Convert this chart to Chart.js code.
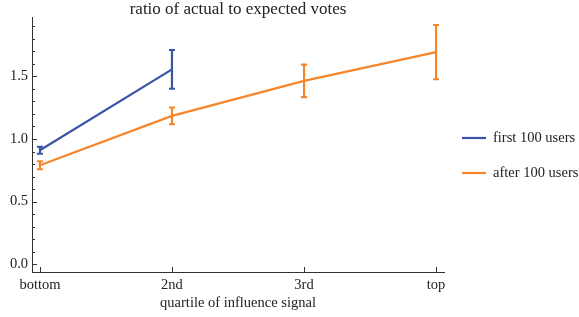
<!DOCTYPE html>
<html>
<head>
<meta charset="utf-8">
<script src="https://cdn.jsdelivr.net/npm/chart.js@4/dist/chart.umd.min.js"></script>
<style>
  html, body { margin: 0; padding: 0; background: #fff; }
  #wrap { width: 579px; height: 317px; }
</style>
</head>
<body>
<div id="wrap"><canvas id="chart" width="579" height="317"></canvas></div>
<script>
const categories = ['bottom', '2nd', '3rd', 'top'];
const firstUsers = [0.91, 1.557];
const firstErr = [0.028, 0.155];
const afterUsers = [0.79, 1.185, 1.465, 1.695];
const afterErr = [0.032, 0.067, 0.13, 0.217];
const seriesNames = ['first 100 users', 'after 100 users'];
const colors = ['#3a55a6', '#f7862a'];

const serif = '"Liberation Serif", "Times New Roman", serif';

function toPoints(vals) {
  return vals.map((v, i) => ({ x: i, y: v }));
}

// error bars, inward ticks, titles and legend
const decor = {
  id: 'decor',
  afterDatasetsDraw(chart) {
    const ctx = chart.ctx;
    const xs = chart.scales.x, ys = chart.scales.y;
    const area = chart.chartArea;
    const errs = [firstErr, afterErr];

    ctx.save();
    chart.data.datasets.forEach((ds, d) => {
      ctx.strokeStyle = colors[d];
      ctx.lineWidth = 2.2;
      ds.data.forEach((p, i) => {
        const px = xs.getPixelForValue(p.x);
        const top = ys.getPixelForValue(p.y + errs[d][i]);
        const bot = ys.getPixelForValue(p.y - errs[d][i]);
        ctx.beginPath();
        ctx.moveTo(px, top); ctx.lineTo(px, bot);
        ctx.moveTo(px - 3, top); ctx.lineTo(px + 3, top);
        ctx.moveTo(px - 3, bot); ctx.lineTo(px + 3, bot);
        ctx.stroke();
      });
    });

    // ticks pointing inward
    ctx.strokeStyle = '#333';
    ctx.lineWidth = 1;
    ctx.beginPath();
    ys.ticks.forEach(t => {
      const py = Math.round(ys.getPixelForValue(t.value)) + 0.5;
      const major = Math.abs(t.value * 2 - Math.round(t.value * 2)) < 1e-6;
      ctx.moveTo(area.left, py);
      ctx.lineTo(area.left + (major ? 5 : 3), py);
    });
    xs.ticks.forEach(t => {
      const px = Math.round(xs.getPixelForValue(t.value)) + 0.5;
      ctx.moveTo(px, area.bottom);
      ctx.lineTo(px, area.bottom - 5);
    });
    ctx.stroke();

    // titles
    ctx.fillStyle = '#222';
    ctx.textAlign = 'center';
    ctx.textBaseline = 'alphabetic';
    ctx.font = '17px ' + serif;
    ctx.fillText('ratio of actual to expected votes', (area.left + area.right) / 2, 14);
    ctx.font = '14.5px ' + serif;
    ctx.fillText('quartile of influence signal', (area.left + area.right) / 2, 307);

    // legend
    ctx.textAlign = 'left';
    ctx.textBaseline = 'middle';
    seriesNames.forEach((name, i) => {
      const ly = 138 + i * 35;
      ctx.strokeStyle = colors[i];
      ctx.lineWidth = 2.2;
      ctx.beginPath();
      ctx.moveTo(462, ly); ctx.lineTo(486, ly);
      ctx.stroke();
      ctx.fillStyle = '#222';
      ctx.fillText(name, 493, ly);
    });
    ctx.restore();
  }
};

new Chart(document.getElementById('chart'), {
  type: 'line',
  data: {
    datasets: [
      { label: seriesNames[0], data: toPoints(firstUsers), borderColor: colors[0], borderWidth: 2.2, pointRadius: 0, fill: false },
      { label: seriesNames[1], data: toPoints(afterUsers), borderColor: colors[1], borderWidth: 2.2, pointRadius: 0, fill: false }
    ]
  },
  options: {
    responsive: false,
    animation: false,
    layout: { padding: { top: 17, right: 135, left: 0, bottom: 0 } },
    plugins: { legend: { display: false }, tooltip: { enabled: false }, title: { display: false } },
    scales: {
      x: {
        type: 'linear',
        min: -0.06, max: 3.06,
        afterFit(s) { s.height = 45; },
        grid: { display: false, drawTicks: false },
        border: { display: true, color: '#333', width: 1 },
        ticks: {
          stepSize: 1, includeBounds: false, padding: 4,
          color: '#222', font: { family: serif, size: 14.5 },
          callback: v => categories[v] ?? ''
        }
      },
      y: {
        min: -0.064, max: 1.976,
        afterFit(s) { s.width = 32; },
        grid: { display: false, drawTicks: false },
        border: { display: true, color: '#333', width: 1 },
        ticks: {
          stepSize: 0.1, includeBounds: false, padding: 4, autoSkip: false,
          color: '#222', font: { family: serif, size: 14.5 },
          callback: v => {
            const r = Math.round(v * 10);
            return r % 5 === 0 ? (r / 10).toFixed(1) : '';
          }
        }
      }
    }
  },
  plugins: [decor]
});
</script>
</body>
</html>
